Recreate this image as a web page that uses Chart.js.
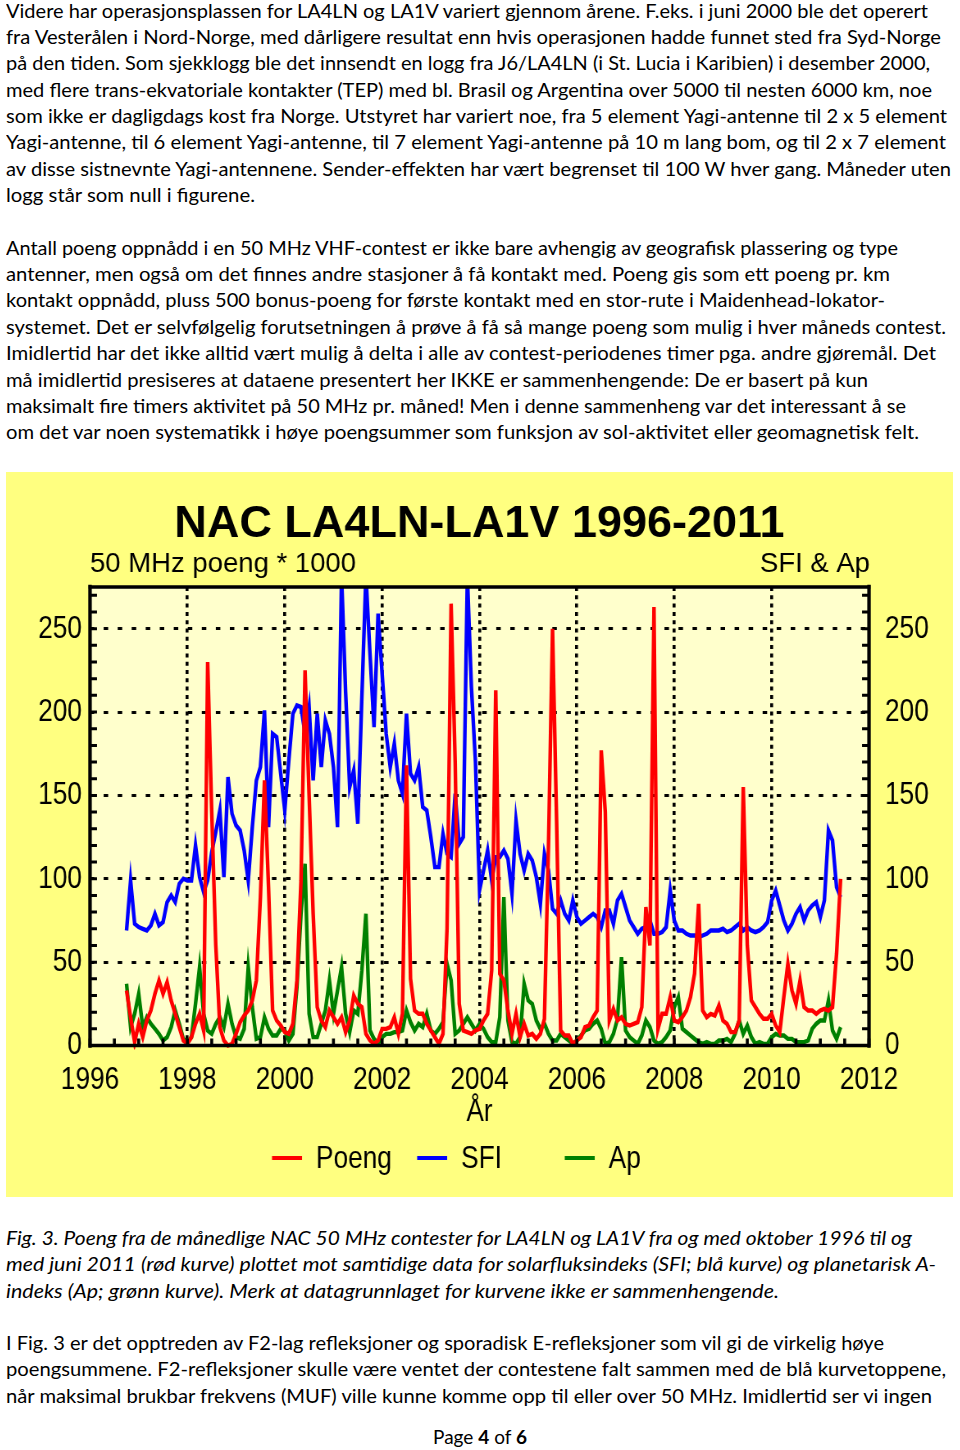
<!DOCTYPE html>
<html lang="no">
<head>
<meta charset="utf-8">
<title>NAC LA4LN-LA1V 1996-2011</title>
<script src="https://cdn.jsdelivr.net/npm/chart.js@4.4.1/dist/chart.umd.min.js"></script>
<style>
  html, body { margin:0; padding:0; background:#fff; }
  body { width:960px; height:1450px; position:relative; overflow:hidden; color:#000;
         font-family: Lato, 'Open Sans', 'Liberation Sans', sans-serif; }
  .ln { position:absolute; left:6px; white-space:nowrap; font-size:19px; line-height:26px; transform-origin:0 50%; }
  .it { font-style:italic; }
  #box { position:absolute; left:6px; top:472px; width:947px; height:725px; background:#ffff80; overflow:hidden; }
  #box canvas { display:block; transform-origin:0 0; }
  #foot { position:absolute; left:0; width:960px; top:1424px; text-align:center; font-size:19px; line-height:26px; }
</style>
</head>
<body>
<div class="ln" data-r="928" style="top:-2px">Videre har operasjonsplassen for LA4LN og LA1V variert gjennom årene. F.eks. i juni 2000 ble det operert</div>
<div class="ln" data-r="941" style="top:24px">fra Vesterålen i Nord-Norge, med dårligere resultat enn hvis operasjonen hadde funnet sted fra Syd-Norge</div>
<div class="ln" data-r="930" style="top:50px">på den tiden. Som sjekklogg ble det innsendt en logg fra J6/LA4LN (i St. Lucia i Karibien) i desember 2000,</div>
<div class="ln" data-r="932" style="top:77px">med flere trans-ekvatoriale kontakter (TEP) med bl. Brasil og Argentina over 5000 til nesten 6000 km, noe</div>
<div class="ln" data-r="947" style="top:103px">som ikke er dagligdags kost fra Norge. Utstyret har variert noe, fra 5 element Yagi-antenne til 2 x 5 element</div>
<div class="ln" data-r="946" style="top:129px">Yagi-antenne, til 6 element Yagi-antenne, til 7 element Yagi-antenne på 10 m lang bom, og til 2 x 7 element</div>
<div class="ln" data-r="951" style="top:156px">av disse sistnevnte Yagi-antennene. Sender-effekten har vært begrenset til 100 W hver gang. Måneder uten</div>
<div class="ln" data-r="255" style="top:182px">logg står som null i figurene.</div>

<div class="ln" data-r="898" style="top:235px">Antall poeng oppnådd i en 50 MHz VHF-contest er ikke bare avhengig av geografisk plassering og type</div>
<div class="ln" data-r="890" style="top:261px">antenner, men også om det finnes andre stasjoner å få kontakt med. Poeng gis som ett poeng pr. km</div>
<div class="ln" data-r="885" style="top:287px">kontakt oppnådd, pluss 500 bonus-poeng for første kontakt med en stor-rute i Maidenhead-lokator-</div>
<div class="ln" data-r="946" style="top:314px">systemet. Det er selvfølgelig forutsetningen å prøve å få så mange poeng som mulig i hver måneds contest.</div>
<div class="ln" data-r="936" style="top:340px">Imidlertid har det ikke alltid vært mulig å delta i alle av contest-periodenes timer pga. andre gjøremål. Det</div>
<div class="ln" data-r="868" style="top:367px">må imidlertid presiseres at dataene presentert her IKKE er sammenhengende: De er basert på kun</div>
<div class="ln" data-r="906" style="top:393px">maksimalt fire timers aktivitet på 50 MHz pr. måned! Men i denne sammenheng var det interessant å se</div>
<div class="ln" data-r="919" style="top:419px">om det var noen systematikk i høye poengsummer som funksjon av sol-aktivitet eller geomagnetisk felt.</div>

<div id="box"><canvas id="chart" width="1155" height="725" style="width:1155px;height:725px;transform:scaleX(0.819913)"></canvas></div>

<div class="ln it" data-r="912" style="top:1225px">Fig. 3. Poeng fra de månedlige NAC 50 MHz contester for LA4LN og LA1V fra og med oktober 1996 til og</div>
<div class="ln it" data-r="936" style="top:1251px">med juni 2011 (rød kurve) plottet mot samtidige data for solarfluksindeks (SFI; blå kurve) og planetarisk A-</div>
<div class="ln it" data-r="779" style="top:1278px">indeks (Ap; grønn kurve). Merk at datagrunnlaget for kurvene ikke er sammenhengende.</div>

<div class="ln" data-r="884" style="top:1330px">I Fig. 3 er det opptreden av F2-lag refleksjoner og sporadisk E-refleksjoner som vil gi de virkelig høye</div>
<div class="ln" data-r="946" style="top:1356px">poengsummene. F2-refleksjoner skulle være ventet der contestene falt sammen med de blå kurvetoppene,</div>
<div class="ln" data-r="932" style="top:1383px">når maksimal brukbar frekvens (MUF) ville kunne komme opp til eller over 50 MHz. Imidlertid ser vi ingen</div>

<div id="foot">Page <b>4</b> of <b>6</b></div>

<script>
// ---- Data (monthly, October 1996 – June 2011) ----
const START_YEAR = 1996;
const START_MONTH = 10;

// 50 MHz points (x1000), red curve
const poeng = [
  33, 17, 2,                                        // 1996 Oct-Dec
  13, 5, 15, 21, 31, 39, 31, 38, 27, 19, 11, 3,     // 1997
  1, 5, 13, 19, 9, 230, 140, 60, 11, 3, 0, 1,       // 1998
  7, 14, 18, 21, 27, 39, 89, 159, 95, 21, 15, 12,   // 1999
  8, 7, 13, 39, 99, 225, 150, 79, 23, 15, 11, 21,   // 2000
  17, 13, 17, 8, 15, 30, 25, 23, 7, 3, 1, 3,        // 2001
  10, 10, 11, 17, 7, 19, 168, 40, 21, 19, 19, 13,   // 2002
  9, 5, 1, 7, 70, 265, 170, 25, 9, 8, 7, 9,         // 2003
  10, 15, 19, 45, 213, 43, 39, 21, 7, 19, 5, 13,    // 2004
  6, 7, 4, 7, 16, 120, 250, 135, 9, 6, 6, 1,        // 2005
  3, 5, 11, 12, 17, 21, 177, 140, 15, 22, 15, 17,   // 2006
  13, 12, 13, 14, 23, 83, 60, 263, 10, 19, 19, 29,  // 2007
  15, 14, 17, 21, 29, 43, 85, 21, 17, 19, 18, 24,   // 2008
  15, 13, 8, 8, 15, 155, 60, 27, 23, 19, 16, 16,    // 2009
  19, 12, 8, 29, 49, 33, 25, 39, 23, 21, 21, 19,    // 2010
  21, 22, 21, 23, 55, 100                           // 2011 Jan-Jun
];

// Solar flux index, blue curve
const sfi = [
  69, 99, 73,
  71, 70, 69, 72, 79, 72, 74, 86, 90, 86, 97, 100,
  99, 99, 120, 101, 92, 99, 116, 128, 141, 101, 161, 139,
  132, 129, 117, 99, 131, 159, 167, 201, 131, 187, 185, 163,
  141, 171, 199, 204, 203, 187, 203, 159, 199, 167, 195, 187,
  167, 131, 282, 212, 155, 165, 133, 209, 282, 235, 191, 259,
  223, 187, 167, 181, 159, 151, 199, 163, 159, 167, 143, 141,
  125, 107, 107, 127, 115, 113, 151, 121, 125, 282, 215, 170,
  93, 105, 117, 99, 113, 113, 117, 112, 91, 135, 115, 105,
  115, 111, 101, 85, 115, 105, 82, 79, 87, 79, 75, 87,
  77, 73, 75, 77, 79, 77, 71, 81, 81, 73, 87, 91,
  83, 75, 71, 67, 70, 71, 75, 67, 67, 68, 71, 93,
  75, 69, 69, 67, 66, 66, 65, 66, 67, 69, 69, 69,
  70, 68, 69, 71, 73, 69, 71, 69, 68, 69, 71, 74,
  87, 93, 84, 75, 69, 73, 79, 83, 75, 81, 84, 86,
  77, 87, 129, 123, 95, 89
];

// Planetary A-index, green curve
const ap = [
  37, 11, 19,
  31, 11, 17, 13, 10, 7, 3, 5, 11, 21, 13, 4,
  2, 5, 25, 47, 19, 9, 7, 13, 17, 11, 25, 13,
  5, 4, 10, 47, 23, 4, 5, 17, 10, 6, 6, 10,
  9, 3, 7, 35, 79, 109, 19, 5, 5, 13, 21, 39,
  19, 33, 47, 19, 8, 21, 19, 45, 79, 9, 4, 1,
  5, 7, 7, 8, 8, 9, 21, 14, 9, 13, 11, 19,
  9, 7, 10, 14, 49, 39, 7, 9, 13, 17, 13, 9,
  13, 10, 5, 2, 2, 17, 89, 15, 2, 1, 5, 37,
  27, 25, 15, 10, 13, 7, 3, 3, 7, 5, 3, 1,
  3, 6, 9, 10, 13, 15, 10, 1, 2, 7, 16, 53,
  9, 5, 3, 1, 6, 15, 11, 3, 1, 2, 5, 9,
  23, 29, 10, 8, 6, 4, 2, 1, 2, 1, 1, 3,
  3, 4, 2, 7, 15, 7, 12, 5, 1, 2, 1, 1,
  5, 7, 6, 6, 4, 4, 2, 2, 2, 3, 10, 13,
  15, 15, 27, 9, 4, 11
];

const xLabelYears = [1996, 1998, 2000, 2002, 2004, 2006, 2008, 2010, 2012];
const xGridYears  = [1998, 2000, 2002, 2004, 2006, 2008, 2010];
const yLabelValues = [0, 50, 100, 150, 200, 250];
const yGridValues  = [50, 100, 150, 200, 250];
const seriesNames = ['Poeng', 'SFI', 'Ap'];

// month categories "YYYY-MM"
const months = poeng.map((_, i) => {
  const m0 = START_MONTH - 1 + i;
  return (START_YEAR + Math.floor(m0 / 12)) + '-' + String(m0 % 12 + 1).padStart(2, '0');
});
const monthToYear = s => { const p = s.split('-').map(Number); return p[0] + (p[1] - 1) / 12; };
const toPts = arr => arr.map((v, i) => ({ x: monthToYear(months[i]), y: v }));

// ---- Styling ----
// The chart canvas is drawn wide and shown horizontally condensed (like the original figure).
const SX = 947 / 1155;
const SANS = "'Liberation Sans', Arial, Helvetica, sans-serif";
const tickFont = { family: SANS, size: 32, lineHeight: 1.2 };
const CLEAR = 'rgba(0,0,0,0)';

const chartDecor = {
  id: 'chartDecor',
  beforeDraw(chart, args, o) {
    const { ctx, chartArea: a } = chart;
    ctx.save();
    ctx.fillStyle = o.plotBg;
    ctx.fillRect(a.left, a.top, a.right - a.left, a.bottom - a.top);
    ctx.restore();
  },
  afterDatasetsDraw(chart, args, o) {
    const { ctx, chartArea: a, scales } = chart;
    ctx.save();
    ctx.setLineDash([]);
    ctx.strokeStyle = '#000';
    // inward tick marks
    ctx.lineWidth = o.hTickWidth;
    ctx.beginPath();
    scales.y.ticks.forEach(t => { const p = scales.y.getPixelForValue(t.value); ctx.moveTo(a.left, p); ctx.lineTo(a.left + o.hTickLen, p); });
    scales.y2.ticks.forEach(t => { const p = scales.y2.getPixelForValue(t.value); ctx.moveTo(a.right, p); ctx.lineTo(a.right - o.hTickLen, p); });
    ctx.stroke();
    ctx.lineWidth = o.vTickWidth;
    ctx.beginPath();
    scales.x.ticks.forEach(t => { const p = scales.x.getPixelForValue(t.value); ctx.moveTo(p, a.bottom); ctx.lineTo(p, a.bottom - o.vTickLen); });
    ctx.stroke();
    // frame
    ctx.lineCap = 'square';
    ctx.lineWidth = o.frameH;
    ctx.beginPath();
    ctx.moveTo(a.left, a.top); ctx.lineTo(a.right, a.top);
    ctx.moveTo(a.left, a.bottom); ctx.lineTo(a.right, a.bottom);
    ctx.stroke();
    ctx.lineWidth = o.frameV;
    ctx.beginPath();
    ctx.moveTo(a.left, a.top); ctx.lineTo(a.left, a.bottom);
    ctx.moveTo(a.right, a.top); ctx.lineTo(a.right, a.bottom);
    ctx.stroke();
    ctx.restore();
  },
  afterDraw(chart, args, o) {
    const { ctx, chartArea: a, width } = chart;
    ctx.save();
    ctx.fillStyle = '#000';
    // title and axis captions drawn at normal proportions
    ctx.save();
    ctx.scale(1 / SX, 1);
    ctx.textBaseline = 'alphabetic';
    ctx.font = o.titleFont;
    ctx.textAlign = 'center';
    ctx.fillText(o.title, (width / 2) * SX, o.titleBaseline);
    ctx.font = o.subFont;
    ctx.textAlign = 'left';
    ctx.fillText(o.leftTitle, a.left * SX, a.top + o.subBaseline);
    ctx.textAlign = 'right';
    ctx.fillText(o.rightTitle, a.right * SX + 1, a.top + o.subBaseline);
    ctx.restore();
    // legend
    const ly = a.bottom + o.legendOffset;
    ctx.font = o.legendFont;
    ctx.textAlign = 'left';
    ctx.textBaseline = 'middle';
    chart.data.datasets.forEach((ds, i) => {
      const x0 = a.left + o.legendX[i];
      ctx.strokeStyle = ds.borderColor;
      ctx.lineWidth = o.legendLineWidth;
      ctx.beginPath();
      ctx.moveTo(x0, ly);
      ctx.lineTo(x0 + o.legendLine, ly);
      ctx.stroke();
      ctx.fillStyle = '#000';
      ctx.fillText(ds.label, x0 + o.legendLine + o.legendGap, ly + 1);
    });
    ctx.restore();
  }
};

const lineDs = (label, data, color, order) => ({
  label, data: toPts(data), borderColor: color, backgroundColor: color,
  borderWidth: 4.4, pointRadius: 0, tension: 0, fill: false, order,
  borderJoinStyle: 'miter', borderCapStyle: 'butt',
  clip: { left: 0, top: 0, right: 0, bottom: 4 }
});

new Chart(document.getElementById('chart'), {
  type: 'line',
  data: {
    datasets: [
      lineDs(seriesNames[0], poeng, '#ff0000', 1),
      lineDs(seriesNames[1], sfi, '#0000ff', 3),
      lineDs(seriesNames[2], ap, '#008000', 2)
    ]
  },
  options: {
    responsive: false,
    animation: false,
    devicePixelRatio: 1,
    layout: { padding: { top: 115, left: 0, right: 0, bottom: 0 } },
    plugins: {
      legend: { display: false },
      tooltip: { enabled: false },
      title: { display: false },
      chartDecor: {
        plotBg: '#ffffcc',
        hTickLen: 8.5, hTickWidth: 3, vTickLen: 7, vTickWidth: 3.6,
        frameH: 3.5, frameV: 4.3,
        title: 'NAC LA4LN-LA1V 1996-2011',
        titleFont: "bold 45px " + SANS,
        titleBaseline: 65,
        subFont: "27.5px " + SANS,
        leftTitle: '50 MHz poeng * 1000',
        rightTitle: 'SFI & Ap',
        subBaseline: -15,
        legendFont: "32px " + SANS,
        legendOffset: 112.5,
        legendX: [222, 399, 579],
        legendLine: 36.6, legendGap: 17, legendLineWidth: 4
      }
    },
    scales: {
      x: {
        type: 'linear', position: 'bottom', min: 1996, max: 2012,
        afterFit: s => { s.height = 151.5; },
        ticks: {
          stepSize: 0.5, autoSkip: false, maxRotation: 0, minRotation: 0, includeBounds: true,
          maxTicksLimit: 100, color: '#000', font: tickFont, padding: 15,
          callback: v => xLabelYears.includes(v) ? String(v) : ''
        },
        grid: {
          drawTicks: false, lineWidth: 3.6,
          color: c => (c.tick && xGridYears.includes(c.tick.value)) ? '#000' : CLEAR
        },
        border: { display: false, dash: [4, 4.3] },
        title: {
          display: true, text: 'År', color: '#000',
          font: { family: SANS, size: 32, lineHeight: 1.2 },
          padding: { top: 0, bottom: 66 }
        }
      },
      y: {
        type: 'linear', position: 'left', min: 0, max: 275,
        afterFit: s => { s.width = 102.45; },
        ticks: {
          stepSize: 10, autoSkip: false, includeBounds: false, maxTicksLimit: 100,
          color: '#000', font: tickFont, padding: 9.8,
          callback: v => yLabelValues.includes(v) ? String(v) : ''
        },
        grid: {
          drawTicks: false, lineWidth: 3,
          color: c => (c.tick && yGridValues.includes(c.tick.value)) ? '#000' : CLEAR
        },
        border: { display: false, dash: [5.5, 11.6] }
      },
      y2: {
        type: 'linear', position: 'right', min: 0, max: 275,
        afterFit: s => { s.width = 102.45; },
        ticks: {
          stepSize: 10, autoSkip: false, includeBounds: false, maxTicksLimit: 100,
          color: '#000', font: tickFont, padding: 19.5,
          callback: v => yLabelValues.includes(v) ? String(v) : ''
        },
        grid: { display: false, drawTicks: false },
        border: { display: false }
      }
    }
  },
  plugins: [chartDecor]
});

// fit text lines to the widths of the original page
function fitLines() {
  document.querySelectorAll('.ln').forEach(el => {
    el.style.transform = 'none';
    const w = el.getBoundingClientRect().width;
    const target = Number(el.dataset.r) - 6;
    if (w > 0) el.style.transform = 'scaleX(' + (target / w).toFixed(4) + ')';
  });
}
fitLines();
if (document.fonts && document.fonts.ready) document.fonts.ready.then(fitLines);
</script>
</body>
</html>
